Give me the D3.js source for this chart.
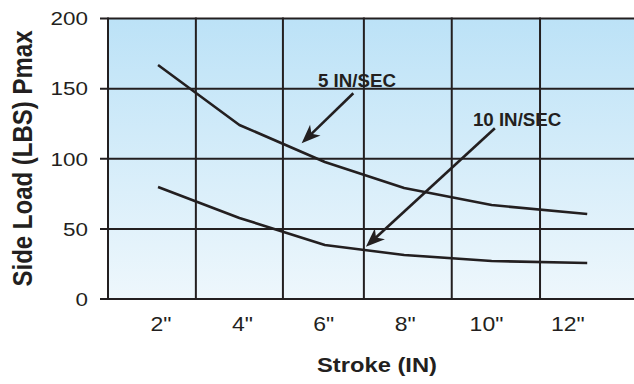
<!DOCTYPE html>
<html><head><meta charset="utf-8">
<script src="https://cdn.jsdelivr.net/npm/d3@7"></script>
<style>html,body{margin:0;padding:0;background:#fff}svg{display:block}</style>
</head><body>
<svg id="c" width="634" height="384"></svg>
<script>
// ---- data ----
const strokes = [2, 4, 6.1, 8.05, 10.2, 12.55];
const load5 = [166.8, 124.1, 97.7, 79.1, 67.0, 60.6];
const load10 = [79.9, 57.8, 38.5, 31.4, 27.1, 25.7];
const xTickValues = [2, 4, 6, 8, 10, 12];
const xTickLabels = ['2"', '4"', '6"', '8"', '10"', '12"'];
const xGridValues = [2.93, 5.07, 7.06, 9.22, 11.39];
const yTickValues = [0, 50, 100, 150, 200];
const annoText = ["5 IN/SEC", "10 IN/SEC"];
const annoTextPos = [[5.93, 151.4], [9.74, 123.4]];
const annoArrowFrom = [[6.80, 146.7], [10.28, 121.7]];
const annoArrowTo = [[5.53, 111.0], [7.11, 37.3]];

// ---- drawing ----
const svg = d3.select("#c");
const FONT = "'Liberation Sans', Arial, Helvetica, sans-serif";
const INK = "#231f20";
const SX = 1.18;

const x = d3.scaleLinear().domain([0.77, 13.7]).range([108, 634]);
const y = d3.scaleLinear().domain([0, 200]).range([299, 18.5]);

const defs = svg.append("defs");
const grad = defs.append("linearGradient").attr("id", "bg")
  .attr("x1", 0).attr("y1", 0).attr("x2", 0).attr("y2", 1);
grad.append("stop").attr("offset", "0%").attr("stop-color", "#bce2f7");
grad.append("stop").attr("offset", "100%").attr("stop-color", "#eef7fc");

svg.append("rect")
  .attr("x", x.range()[0]).attr("y", y(200))
  .attr("width", x.range()[1] - x.range()[0]).attr("height", y(0) - y(200))
  .attr("fill", "url(#bg)");

// horizontal grid lines (with tick stubs to the left)
svg.append("g").selectAll("line").data(yTickValues).join("line")
  .attr("x1", x.range()[0] - 8).attr("x2", x.range()[1])
  .attr("y1", d => y(d)).attr("y2", d => y(d))
  .attr("stroke", INK).attr("stroke-width", 2);

// vertical grid lines incl. left axis
svg.append("g").selectAll("line").data([x.domain()[0], ...xGridValues]).join("line")
  .attr("x1", d => x(d)).attr("x2", d => x(d))
  .attr("y1", y(200) - 1).attr("y2", y(0) + 1)
  .attr("stroke", INK).attr("stroke-width", 2);

// y tick labels
svg.append("g").selectAll("text").data(yTickValues).join("text")
  .attr("transform", d => `translate(88,${y(d) + 6.8}) scale(${SX},1)`)
  .attr("text-anchor", "end")
  .attr("font-family", FONT).attr("font-size", 19).attr("fill", INK)
  .text(d => d);

// x tick labels
svg.append("g").selectAll("text").data(xTickValues).join("text")
  .attr("transform", (d) => `translate(${x(d) + 3},331) scale(${SX},1)`)
  .attr("text-anchor", "middle")
  .attr("font-family", FONT).attr("font-size", 19.5).attr("fill", INK)
  .text((d, i) => xTickLabels[i]);

// axis titles
svg.append("text")
  .attr("transform", `translate(377,372) scale(1.13,1)`)
  .attr("text-anchor", "middle")
  .attr("font-family", FONT).attr("font-size", 21).attr("font-weight", "bold").attr("fill", INK)
  .text("Stroke (IN)");

svg.append("text")
  .attr("transform", `translate(32,158.5) scale(1.16,1) rotate(-90)`)
  .attr("text-anchor", "middle")
  .attr("font-family", FONT).attr("font-size", 24).attr("font-weight", "bold").attr("fill", INK)
  .text("Side Load (LBS) Pmax");

// curves
const line = d3.line().x(d => x(d[0])).y(d => y(d[1]));
[load5, load10].forEach(series => {
  svg.append("path")
    .datum(strokes.map((s, i) => [s, series[i]]))
    .attr("d", line)
    .attr("fill", "none").attr("stroke", INK).attr("stroke-width", 2.6)
    .attr("stroke-linejoin", "round");
});

// annotations
annoText.forEach((t, i) => {
  svg.append("text")
    .attr("transform", `translate(${x(annoTextPos[i][0])},${y(annoTextPos[i][1])}) scale(1.07,1)`)
    .attr("font-family", FONT).attr("font-size", 17.5).attr("font-weight", "bold").attr("fill", INK)
    .text(t);
  const x1 = x(annoArrowFrom[i][0]), y1 = y(annoArrowFrom[i][1]);
  const x2 = x(annoArrowTo[i][0]), y2 = y(annoArrowTo[i][1]);
  const ang = Math.atan2(y2 - y1, x2 - x1) * 180 / Math.PI;
  const L = 19, W = 7.5;
  svg.append("line")
    .attr("x1", x1).attr("y1", y1)
    .attr("x2", x2 - (L * 0.7) * Math.cos(ang * Math.PI / 180))
    .attr("y2", y2 - (L * 0.7) * Math.sin(ang * Math.PI / 180))
    .attr("stroke", INK).attr("stroke-width", 2.6);
  svg.append("path")
    .attr("transform", `translate(${x2},${y2}) rotate(${ang})`)
    .attr("d", `M0,0 L${-L},${W} L${-L * 0.72},0 L${-L},${-W} Z`)
    .attr("fill", INK);
});
</script>
</body></html>
